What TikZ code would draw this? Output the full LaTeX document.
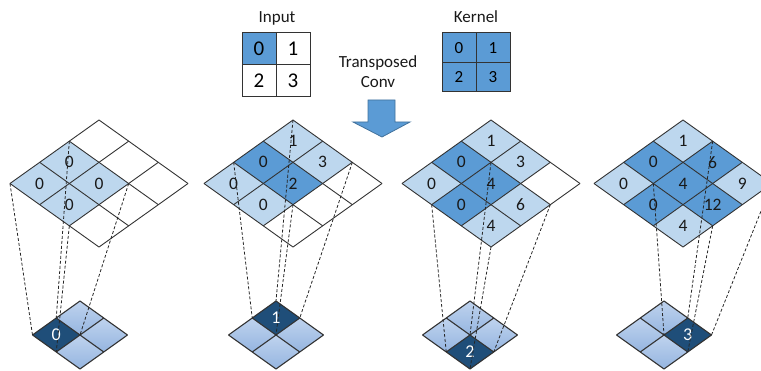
\documentclass[tikz,border=0pt]{standalone}
\usepackage{fontspec}
\setmainfont{Carlito}
\definecolor{lightb}{HTML}{BDD7EE}
\definecolor{midb}{HTML}{5B9BD5}
\definecolor{darkb}{HTML}{1F4E79}
\definecolor{btop}{HTML}{BFD3EE}
\definecolor{bbot}{HTML}{95B5E0}
\definecolor{gridc}{HTML}{333333}
\definecolor{arrowedge}{HTML}{41719C}
\def\cw{29.67}\def\ch{21.17}\def\bw{23.75}\def\bh{17}
\newcommand\V[3]{({#1+((#2)-(#3))*\cw},{120+((#2)+(#3))*\ch})}
\newcommand\B[3]{({#1+((#2)-(#3))*\bw},{301+((#2)+(#3))*\bh})}
\newcommand\tcell[6]{%
  \fill[#5] \V{#2}{#3}{#4} -- ++(\cw,\ch) -- ++(-\cw,\ch) -- ++(-\cw,-\ch) -- cycle;
  \node[lab] (t#1-#3-#4) at ({#2+((#3)-(#4))*\cw},{120+((#3)+(#4)+1)*\ch}) {#6};
}
\newcommand\tgrid[1]{%
  \foreach \k in {0,...,3}{
    \draw[gridline] \V{#1}{\k}{0} -- \V{#1}{\k}{3};
    \draw[gridline] \V{#1}{0}{\k} -- \V{#1}{3}{\k};
  }
}
\newcommand\bdiamond[5]{%
  \foreach \i in {0,1}{\foreach \j in {0,1}{
    \shade[top color=btop,bottom color=bbot] \B{#2}{\i}{\j} -- ++(\bw,\bh) -- ++(-\bw,\bh) -- ++(-\bw,-\bh) -- cycle;}}
  \fill[darkb] \B{#2}{#3}{#4} -- ++(\bw,\bh) -- ++(-\bw,\bh) -- ++(-\bw,-\bh) -- cycle;
  \foreach \k in {0,1,2}{
    \draw[bline] \B{#2}{\k}{0} -- \B{#2}{\k}{2};
    \draw[bline] \B{#2}{0}{\k} -- \B{#2}{2}{\k};
  }
  \node[lab, text=white, font=\fontsize{18}{20}\selectfont] (b#1) at ({#2+((#3)-(#4))*\bw},{301+((#3)+(#4)+1)*\bh}) {#5};
}
\newcommand\links[5]{%
  \path \V{#2}{#4}{#5} coordinate (#1u1);
  \path \V{#2}{#4+2}{#5} coordinate (#1u2);
  \path \V{#2}{#4+2}{#5+2} coordinate (#1u3);
  \path \V{#2}{#4}{#5+2} coordinate (#1u4);
  \path \B{#3}{#4}{#5} coordinate (#1d1);
  \path \B{#3}{#4+1}{#5} coordinate (#1d2);
  \path \B{#3}{#4+1}{#5+1} coordinate (#1d3);
  \path \B{#3}{#4}{#5+1} coordinate (#1d4);
  \draw[link] (#1u1) -- (#1d1) (#1u2) -- (#1d2) (#1u3) -- (#1d3) (#1u4) -- (#1d4);
}
\begin{document}
\begin{tikzpicture}[x=1pt,y=-1pt,
  lab/.style={inner sep=0pt, font=\fontsize{17.5}{20}\selectfont, text=black!90},
  gridline/.style={draw=gridc, line width=0.9pt},
  bline/.style={draw=gridc, line width=1.1pt},
  link/.style={draw=black!85, line width=0.8pt, dash pattern=on 3pt off 2pt},
  tab/.style={draw=gridc, line width=1pt, inner sep=0pt, minimum width=34pt},
  title/.style={inner sep=0pt, font=\fontsize{17}{20}\selectfont, text=black!90}]
\useasboundingbox (0,0) rectangle (761,371);
\clip (0,0) rectangle (761,371);
% header
\node[title] (inlab) at (277,18) {Input};
\node[tab, minimum height=32pt, fill=midb, font=\fontsize{21}{23}\selectfont] (in0) at (259,49) {0};
\node[tab, minimum height=32pt, fill=white, font=\fontsize{21}{23}\selectfont] (in1) at (293,49) {1};
\node[tab, minimum height=32pt, fill=white, font=\fontsize{21}{23}\selectfont] (in2) at (259,81) {2};
\node[tab, minimum height=32pt, fill=white, font=\fontsize{21}{23}\selectfont] (in3) at (293,81) {3};
\node[title] (klab) at (476,17) {Kernel};
\node[tab, minimum height=29.5pt, fill=midb, font=\fontsize{17}{19}\selectfont] (k0) at (459,47.75) {0};
\node[tab, minimum height=29.5pt, fill=midb, font=\fontsize{17}{19}\selectfont] (k1) at (493,47.75) {1};
\node[tab, minimum height=29.5pt, fill=midb, font=\fontsize{17}{19}\selectfont] (k2) at (459,77.25) {2};
\node[tab, minimum height=29.5pt, fill=midb, font=\fontsize{17}{19}\selectfont] (k3) at (493,77.25) {3};
\node[title, align=center, font=\fontsize{17}{20}\selectfont] (tc) at (378,72) {Transposed\\Conv};
\filldraw[fill=midb, draw=arrowedge, line width=0.8pt] (368,100) -- (395,100) -- (395,122) -- (410,122) -- (382,137) -- (353,122) -- (368,122) -- cycle;
% panel 1
\foreach \i/\j/\t in {0/1/0,0/2/0,1/1/0,1/2/0} {\tcell{a}{99}{\i}{\j}{lightb}{\t}}
\tgrid{99}
% panel 2
\foreach \i/\j/\t in {0/0/1,1/0/3,0/2/0,1/2/0} {\tcell{b}{293}{\i}{\j}{lightb}{\t}}
\foreach \i/\j/\t in {0/1/0,1/1/2} {\tcell{b}{293}{\i}{\j}{midb}{\t}}
\tgrid{293}
% panel 3
\foreach \i/\j/\t in {0/0/1,1/0/3,0/2/0,2/1/6,2/2/4} {\tcell{c}{491}{\i}{\j}{lightb}{\t}}
\foreach \i/\j/\t in {0/1/0,1/1/4,1/2/0} {\tcell{c}{491}{\i}{\j}{midb}{\t}}
\tgrid{491}
% panel 4
\foreach \i/\j/\t in {0/0/1,0/2/0,2/0/9,2/2/4} {\tcell{d}{683}{\i}{\j}{lightb}{\t}}
\foreach \i/\j/\t in {0/1/0,1/0/6,1/1/4,1/2/0,2/1/12} {\tcell{d}{683}{\i}{\j}{midb}{\t}}
\tgrid{683}
% bottom diamonds
\bdiamond{a}{80}{0}{1}{0}
\bdiamond{b}{276}{0}{0}{1}
\bdiamond{c}{470}{1}{1}{2}
\bdiamond{d}{664}{1}{0}{3}
% links
\links{a}{99}{80}{0}{1}
\links{b}{293}{276}{0}{0}
\links{c}{491}{470}{1}{1}
\links{d}{683}{664}{1}{0}
\end{tikzpicture}
\end{document}
